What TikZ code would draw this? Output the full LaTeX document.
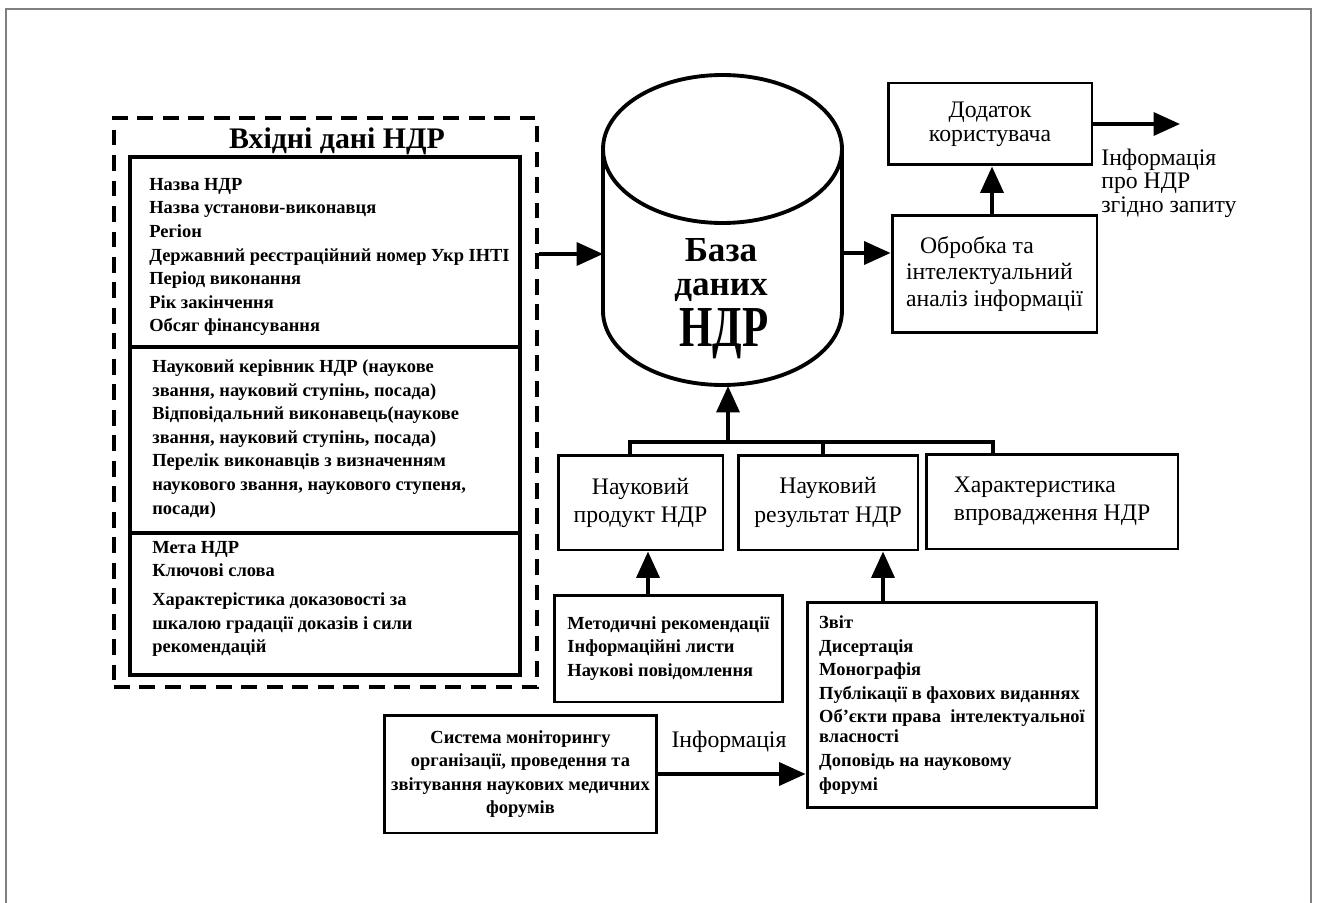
\documentclass[tikz,border=0pt]{standalone}
\usepackage{fontspec}
\setmainfont{Liberation Serif}
\usepackage{graphicx}
\usetikzlibrary{arrows.meta,fit}
\tikzset{
  box/.style={draw,line width=1.7pt,inner sep=0pt},
  line/.style={line width=2.2pt},
  arr/.style={line width=2.2pt,-{Triangle[length=15pt,width=13pt]}},
  lst/.style={font=\fontsize{10.5}{13.4}\selectfont\bfseries,align=left,inner sep=0pt},
  lbl/.style={font=\fontsize{13.5}{16}\selectfont,align=center},
}
\begin{document}
\begin{tikzpicture}[x=0.02cm,y=-0.02cm]
\useasboundingbox (0,0) rectangle (1317,902);
\draw[gray,line width=0.6pt] (6,920) -- (6,9) -- (1311,9) -- (1311,920);

% input data
\node[draw,line width=2pt,dash pattern=on 9pt off 5.5pt,inner sep=0pt,fit={(114,118) (537,687)}] (inputs) {};
\node[font=\fontsize{17}{17}\selectfont\bfseries] (title) at (337,141) {Вхідні дані НДР};
\node[box,line width=2.2pt,fit={(130,157) (520,347)}] (sec1) {};
\node[box,line width=2.2pt,fit={(130,347) (520,533)}] (sec2) {};
\node[box,line width=2.2pt,fit={(130,533) (520,675)}] (sec3) {};
\node[lst,anchor=west] (t1) at (149,257) {Назва НДР\\Назва установи-виконавця\\Регіон\\Державний реєстраційний номер Укр ІНТІ\\Період виконання\\Рік закінчення\\Обсяг фінансування};
\node[lst,anchor=west] (t2) at (152,439) {Науковий керівник НДР (наукове\\звання, науковий ступінь, посада)\\Відповідальний виконавець(наукове\\звання, науковий ступінь, посада)\\Перелік виконавців з визначенням\\наукового звання, наукового ступеня,\\посади)};
\node[lst,anchor=west] (t3) at (152,599) {Мета НДР\\Ключові слова\\[3pt]Характерістика доказовості за\\шкалою градації доказів і сили\\рекомендацій};

% database
\draw[line] (722.5,149) ellipse [x radius=2.39cm,y radius=1.48cm];
\draw[line] (603,149) -- (603,311) arc[start angle=180,end angle=360,x radius=2.39cm,y radius=1.48cm] -- (842,149);
\node[font=\fontsize{20}{19.4}\selectfont\bfseries,align=center,inner sep=0pt,anchor=north] (db) at (721,238) {База\\даних};
\node[font=\fontsize{33}{33}\selectfont\bfseries,inner sep=0pt,anchor=base] (dbname) at (724,346) {\scalebox{0.74}[1]{НДР}};
\coordinate (dbL) at (603,254); \coordinate (dbR) at (842,253); \coordinate (dbB) at (728,386);

% user side
\node[box,lbl,align=left,font=\fontsize{13.5}{15}\selectfont,minimum width=4.1cm,minimum height=2.36cm] (proc) at (994.5,274) {\hspace*{8pt}Обробка та\\інтелектуальний\\аналіз інформації};
\node[box,lbl,font=\fontsize{13.5}{13.5}\selectfont,minimum width=4.08cm,minimum height=1.64cm] (app) at (990,124) {Додаток\\користувача};
\coordinate (out) at (1180,124);
\node[lbl,align=left,anchor=west,inner sep=0pt,font=\fontsize{13.5}{13.4}\selectfont] (info) at (1101,183) {Інформація\\про НДР\\згідно запиту};

% results
\node[box,lbl,minimum width=3.3cm,minimum height=1.9cm] (prod) at (640.5,502.5) {Науковий\\продукт НДР};
\node[box,lbl,font=\fontsize{13.5}{17}\selectfont,minimum width=3.6cm,minimum height=1.9cm] (res) at (828,502.5) {Науковий\\результат НДР};
\node[box,lbl,align=left,minimum width=5.04cm,minimum height=1.9cm] (impl) at (1052,501.5) {Характеристика\\впровадження НДР};
\node[box,lst,minimum width=4.58cm,minimum height=2.14cm] (meth) at (668.5,648.5) {Методичні рекомендації\\Інформаційні листи\\Наукові повідомлення};
\node[box,lst,minimum width=5.8cm,minimum height=4.12cm] (works) at (952,705) {Звіт\\Дисертація\\Монографія\\Публікації в фахових виданнях\\Об'єкти права \ інтелектуальної\\[-2pt]власності\\Доповідь на науковому\\форумі};
\node[box,lst,align=center,minimum width=5.46cm,minimum height=2.36cm] (sys) at (520.5,774) {Система моніторингу\\організації, проведення та\\звітування наукових медичних\\форумів};
\node[font=\fontsize{13.5}{13.5}\selectfont] (infolbl) at (729,742) {Інформація};

% connectors
\draw[arr] (dbL -| inputs.east) -- (dbL);
\draw[arr] (dbR) -- (dbR -| proc.west);
\coordinate (u3) at (992,0);
\draw[arr] (proc.north -| u3) -- (app.south -| u3);
\draw[arr] (app.east) -- (out);
\coordinate (b1) at (630,442); \coordinate (b2) at (823,442); \coordinate (b3) at (993,442);
\draw[line] (b1 |- prod.north) -- (b1) -- (b3) -- (b3 |- impl.north);
\draw[line] (b2) -- (b2 |- res.north);
\draw[arr] (dbB |- b1) -- (dbB);
\coordinate (u1) at (648,0); \coordinate (u2) at (883,0);
\draw[arr] (meth.north -| u1) -- (prod.south -| u1);
\draw[arr] (works.north -| u2) -- (res.south -| u2);
\draw[arr] (sys.east) -- (sys.east -| works.west);
\end{tikzpicture}
\end{document}
